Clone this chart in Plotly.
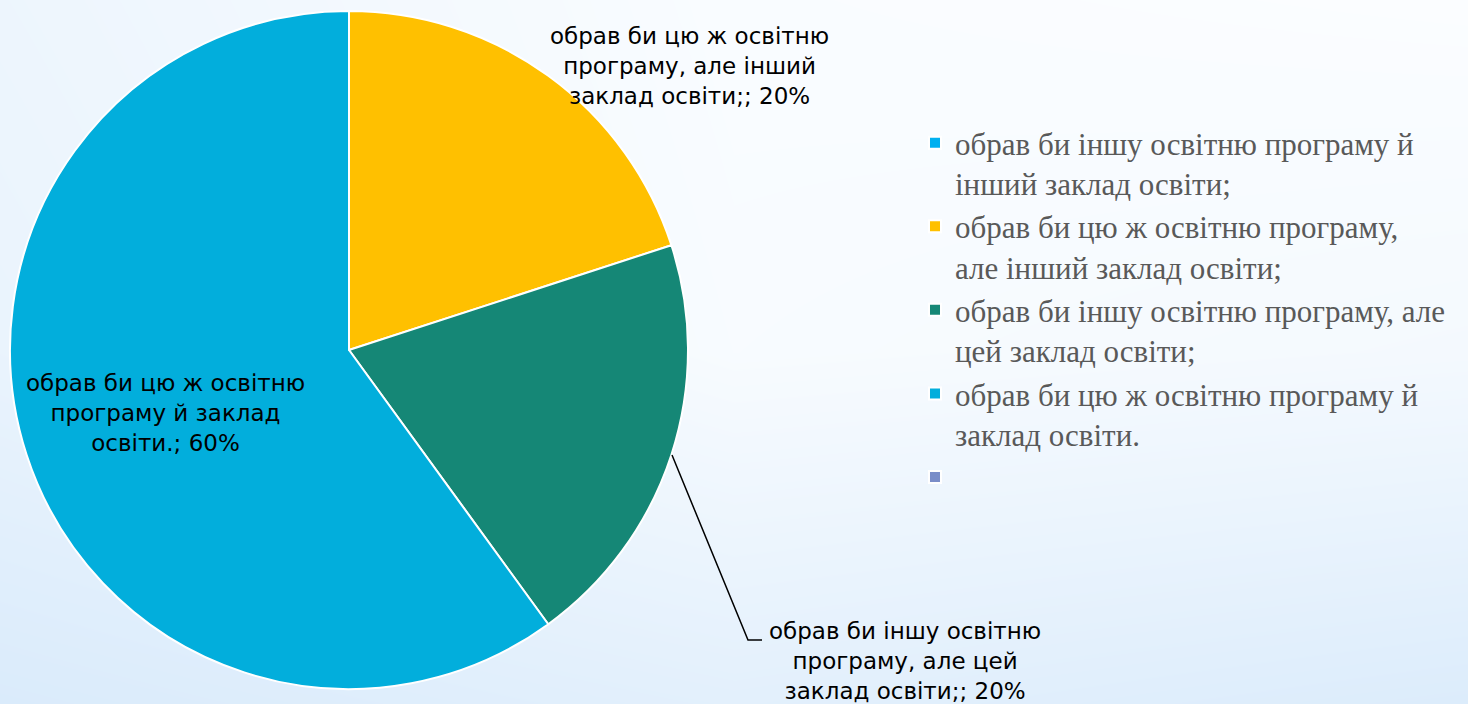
import plotly.graph_objects as go

W, H = 1468, 704

# ---- data ----
categories = [
    "обрав би іншу освітню програму й інший заклад освіти;",
    "обрав би цю ж освітню програму, але інший заклад освіти;",
    "обрав би іншу освітню програму, але цей заклад освіти;",
    "обрав би цю ж освітню програму й заклад освіти.",
    " ",
]
legend_labels = [
    "обрав би іншу освітню програму й<br>інший заклад освіти;",
    "обрав би цю ж освітню програму,<br>але інший заклад освіти;",
    "обрав би іншу освітню програму, але<br>цей заклад освіти;",
    "обрав би цю ж освітню програму й<br>заклад освіти.",
    " ",
]
values = [0, 20, 20, 60, 0]
colors = ["#00B0F0", "#FFC000", "#158776", "#02AEDC", "#7A8DC8"]

# data-label text (wrapped as in the reference), for slices with non-zero share
label_lines = {
    1: ["обрав би цю ж освітню", "програму, але інший", "заклад освіти;"],
    2: ["обрав би іншу освітню", "програму, але цей", "заклад освіти;"],
    3: ["обрав би цю ж освітню", "програму й заклад", "освіти."],
}

# pixel helpers
def px(x):
    return x / W

def py(y):
    return 1 - y / H

fig = go.Figure()

# soft background gradient (decorative)
fig.add_trace(go.Heatmap(
    x=[0, 0.5, 1], y=[0, 0.5, 1],
    z=[[1.0, 0.75, 0.95],
       [0.55, 0.15, 0.25],
       [0.45, 0.10, 0.05]],
    colorscale=[[0, "#FBFDFF"], [1, "#DAEBFB"]],
    zsmooth="best", showscale=False, hoverinfo="skip",
))

fig.add_trace(go.Pie(
    labels=legend_labels,
    values=values,
    sort=False,
    direction="clockwise",
    rotation=0,
    marker=dict(colors=colors, line=dict(color="white", width=2)),
    textinfo="none",
    hoverinfo="label+percent",
    domain=dict(x=[px(10), px(688)], y=[py(689), py(11)]),
    showlegend=True,
))

# data labels
label_pos = {1: (689, 66), 2: (905, 661), 3: (165, 413)}
annotations = []
for i, lines in label_lines.items():
    txt = "<br>".join(lines[:-1] + [f"{lines[-1]}; {values[i]}%"])
    cx, cy = label_pos[i]
    annotations.append(dict(
        x=px(cx), y=py(cy), xref="paper", yref="paper",
        text=txt, showarrow=False, align="center",
        xanchor="center", yanchor="middle",
        font=dict(family="DejaVu Sans", size=23, color="#000000"),
    ))

# leader line for the green slice label
shapes = [dict(
    type="path", xref="paper", yref="paper",
    path=f"M {px(672)},{py(455)} L {px(748)},{py(640)} L {px(762)},{py(640)}",
    line=dict(color="black", width=1.5),
)]

fig.update_layout(
    width=W, height=H,
    margin=dict(l=0, r=0, t=0, b=0),
    paper_bgcolor="#F7FAFE",
    plot_bgcolor="rgba(0,0,0,0)",
    xaxis=dict(visible=False, range=[0, 1], fixedrange=True),
    yaxis=dict(visible=False, range=[0, 1], fixedrange=True),
    legend=dict(
        x=px(915), y=py(116), xanchor="left", yanchor="top",
        bgcolor="rgba(0,0,0,0)",
        font=dict(family="Liberation Serif", size=31, color="#595959"),
        valign="top", tracegroupgap=0, itemwidth=30,
        traceorder="normal",
    ),
    annotations=annotations,
    shapes=shapes,
)

fig.write_html(
    "out.html",
    config={"displayModeBar": False},
    post_script="document.body.style.margin='0';document.body.style.overflow='hidden';",
)
